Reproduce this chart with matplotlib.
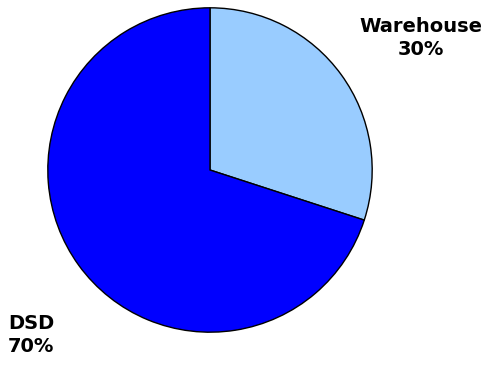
import matplotlib

matplotlib.use("Agg")
import matplotlib.pyplot as plt

# share of volume by channel
channels = ["Warehouse", "DSD"]
shares = [30, 70]
colors = ["#99ccff", "#0000ff"]

fig = plt.figure(figsize=(4.97, 3.72), dpi=100)
ax = fig.add_axes([47 / 497, 39 / 372, 326 / 497, 326 / 372])

ax.pie(
    shares,
    colors=colors,
    startangle=90,
    counterclock=False,
    wedgeprops={"edgecolor": "black", "linewidth": 1},
)
ax.set_xlim(-1.005, 1.005)
ax.set_ylim(-1.005, 1.005)
ax.set_aspect("equal")

fig.text(421 / 497, 1 - 38 / 372, f"{channels[0]}\n{shares[0]}%", ha="center", va="center",
         fontsize=14, fontweight="bold", linespacing=1.25)
fig.text(8 / 497, 1 - 335 / 372, f"{channels[1]}\n{shares[1]}%", ha="left", va="center",
         fontsize=14, fontweight="bold", linespacing=1.25)

fig.savefig("out.png", dpi=100)
